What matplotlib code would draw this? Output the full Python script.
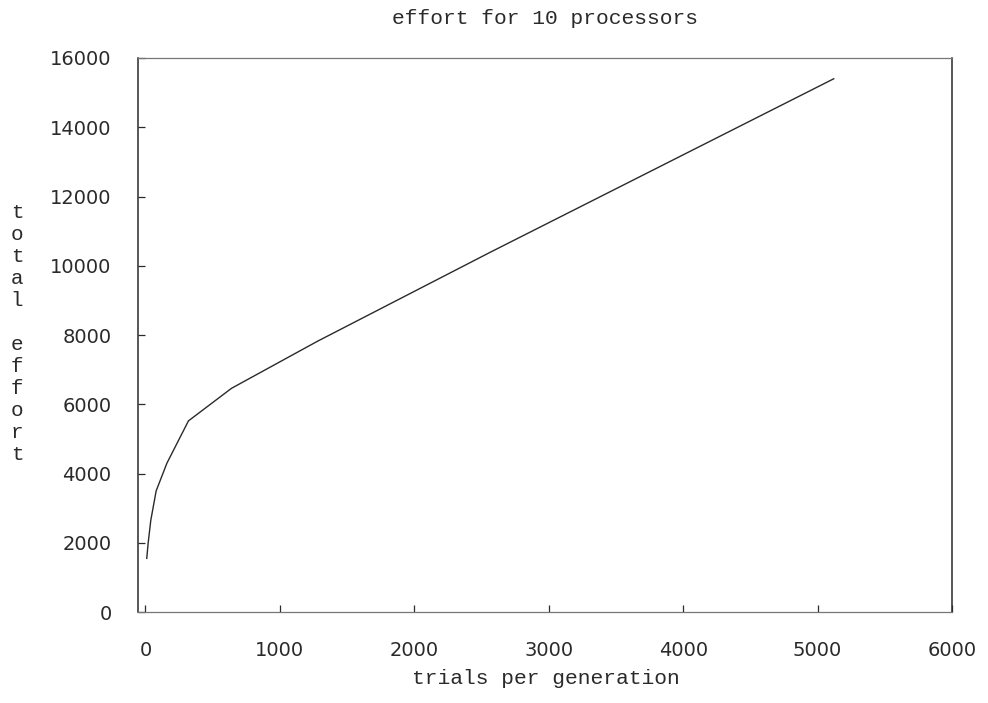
import matplotlib.pyplot as plt

# trials per generation vs total effort (10 processors)
trials = [10, 20, 40, 80, 160, 320, 640, 1280, 2560, 5120]
effort = [1550, 1980, 2650, 3500, 4300, 5520, 6460, 7820, 10380, 15400]

x_ticks = [0, 1000, 2000, 3000, 4000, 5000, 6000]
y_ticks = [0, 2000, 4000, 6000, 8000, 10000, 12000, 14000, 16000]

ink = '#2a2a2a'
mono = 'Liberation Mono'

fig = plt.figure(figsize=(9.88, 7.03), dpi=100)
ax = fig.add_axes([0.1397, 0.1294, 0.8239, 0.7881])

ax.plot(trials, effort, color=ink, linewidth=1.0)

ax.set_xlim(-55, 6000)
ax.set_ylim(0, 16000)
ax.set_xticks(x_ticks)
ax.set_yticks(y_ticks)
ax.tick_params(direction='in', length=5, width=0.9, color=ink,
               labelsize=14, labelcolor=ink)
ax.tick_params(axis='x', pad=21)
ax.tick_params(axis='y', pad=19)

for side in ['left', 'right']:
    ax.spines[side].set_color(ink)
    ax.spines[side].set_linewidth(1.1)
for side in ['top', 'bottom']:
    ax.spines[side].set_color('#777777')
    ax.spines[side].set_linewidth(0.9)

fig.text(0.552, 1 - 18 / 703, 'effort for 10 processors', family=mono,
         fontsize=15.3, color=ink, ha='center', va='center')
fig.text(0.552, 1 - 678 / 703, 'trials per generation', family=mono,
         fontsize=15.3, color=ink, ha='center', va='center')
fig.text(17 / 988, 1 - 334 / 703, '\n'.join('total effort'), family=mono,
         fontsize=15, color=ink, ha='center', va='center', linespacing=1.2)

fig.savefig('out.png', dpi=100)
